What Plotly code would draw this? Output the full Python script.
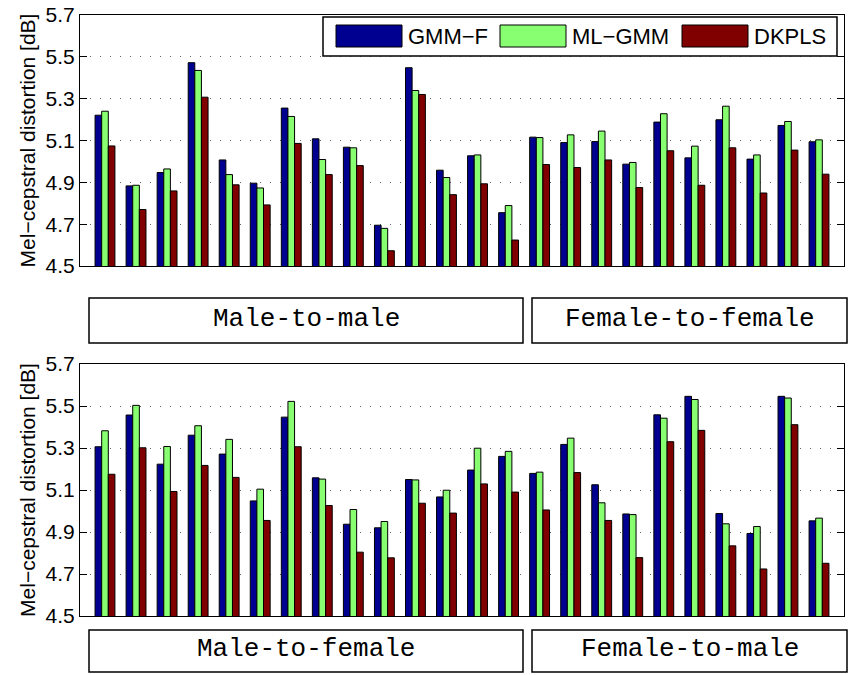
import plotly.graph_objects as go

# ---------------- data ----------------
groups = list(range(1, 25))
series_names = ["GMM\u2212F", "ML\u2212GMM", "DKPLS"]
series_colors = ["#000090", "#88FF70", "#800000"]

top_gmmf = [5.221, 4.883, 4.947, 5.472, 5.007, 4.896, 5.255, 5.108, 5.068, 4.695, 5.448, 4.958,
            5.027, 4.755, 5.116, 5.090, 5.095, 4.987, 5.188, 5.017, 5.199, 5.011, 5.172, 5.094]
top_mlgmm = [5.240, 4.886, 4.964, 5.435, 4.937, 4.873, 5.215, 5.009, 5.065, 4.680, 5.339, 4.923,
             5.031, 4.789, 5.114, 5.127, 5.145, 4.995, 5.228, 5.073, 5.264, 5.031, 5.191, 5.103]
top_dkpls = [5.074, 4.770, 4.859, 5.307, 4.888, 4.792, 5.086, 4.937, 4.980, 4.573, 5.320, 4.841,
             4.893, 4.624, 4.985, 4.971, 5.007, 4.875, 5.051, 4.886, 5.065, 4.849, 5.054, 4.939]

bot_gmmf = [5.306, 5.457, 5.223, 5.361, 5.271, 5.048, 5.447, 5.158, 4.937, 4.920, 5.150, 5.067,
            5.195, 5.260, 5.179, 5.317, 5.125, 4.986, 5.458, 5.546, 4.988, 4.893, 5.546, 4.953]
bot_mlgmm = [5.382, 5.503, 5.307, 5.406, 5.341, 5.104, 5.522, 5.152, 5.007, 4.950, 5.148, 5.099,
             5.299, 5.284, 5.185, 5.347, 5.039, 4.983, 5.442, 5.531, 4.939, 4.926, 5.538, 4.966]
bot_dkpls = [5.175, 5.301, 5.093, 5.217, 5.160, 4.955, 5.306, 5.026, 4.804, 4.777, 5.037, 4.990,
             5.129, 5.090, 5.005, 5.183, 4.955, 4.778, 5.330, 5.384, 4.834, 4.724, 5.411, 4.751]

top_labels = ["Male-to-male", "Female-to-female"]
bot_labels = ["Male-to-female", "Female-to-male"]

y_ticks = [4.5, 4.7, 4.9, 5.1, 5.3, 5.5, 5.7]
y_title = "Mel\u2212cepstral distortion [dB]"

# ---------------- figure ----------------
W, H = 850, 675
def px(x):
    return x / W
def py(y):
    return 1 - y / H

fig = go.Figure()
for vals, name, col in zip([top_gmmf, top_mlgmm, top_dkpls], series_names, series_colors):
    fig.add_trace(go.Bar(x=groups, y=vals, name=name, xaxis="x", yaxis="y",
                         marker=dict(color=col, line=dict(color="black", width=1)),
                         showlegend=False))
for vals, name, col in zip([bot_gmmf, bot_mlgmm, bot_dkpls], series_names, series_colors):
    fig.add_trace(go.Bar(x=groups, y=vals, name=name, xaxis="x2", yaxis="y2",
                         marker=dict(color=col, line=dict(color="black", width=1)),
                         showlegend=False))

sans = "Liberation Sans, Arial, sans-serif"
tickfont = dict(family=sans, size=21, color="black")
xcommon = dict(range=[0.195, 24.805], showticklabels=False, ticks="", showgrid=False,
               showline=True, linecolor="black", linewidth=1, mirror=True, zeroline=False,
               automargin=False)
ycommon = dict(range=[4.5, 5.7], tickvals=y_ticks, ticktext=[f"{v:.1f}" for v in y_ticks],
               ticks="inside", ticklen=7, tickcolor="black", tickfont=tickfont,
               ticklabeloverflow="allow",
               showline=True, linecolor="black", linewidth=1, mirror="ticks",
               showgrid=True, gridcolor="rgba(0,0,0,0.6)", griddash="1px,9px", gridwidth=1,
               zeroline=False, automargin=False,
               title=dict(text=y_title, font=dict(family=sans, size=21, color="black"),
                          standoff=4))

fig.update_layout(
    width=W, height=H,
    margin=dict(l=0, r=0, t=0, b=0, autoexpand=False),
    paper_bgcolor="white", plot_bgcolor="white",
    barmode="group", bargap=0.36, bargroupgap=0.0,
    showlegend=False,
    xaxis=dict(domain=[px(80), px(844)], anchor="y", **xcommon),
    yaxis=dict(domain=[py(266), py(15)], anchor="x", **ycommon),
    xaxis2=dict(domain=[px(80), px(844)], anchor="y2", **xcommon),
    yaxis2=dict(domain=[py(616), py(364)], anchor="x2", **ycommon),
)

shapes = []
annotations = []

# manual legend (top panel)
shapes.append(dict(type="rect", xref="paper", yref="paper",
                   x0=px(323), x1=px(837), y0=py(56), y1=py(17),
                   line=dict(color="black", width=1.5), fillcolor="white", layer="above"))
sw_x = [336, 500, 682]
for x0, name, col in zip(sw_x, series_names, series_colors):
    shapes.append(dict(type="rect", xref="paper", yref="paper",
                       x0=px(x0), x1=px(x0 + 66), y0=py(47), y1=py(25),
                       line=dict(color="black", width=1), fillcolor=col, layer="above"))
    annotations.append(dict(xref="paper", yref="paper", x=px(x0 + 70), y=py(36.5),
                            text=name, showarrow=False, xanchor="left", yanchor="middle",
                            font=dict(family=sans, size=22, color="black")))

# category boxes
mono = dict(family="Liberation Mono, Courier New, monospace", size=26, color="black")
box_x = [(89, 523), (532, 847)]
for (ytop, ybot), labels in [((298, 343), top_labels), ((630, 672), bot_labels)]:
    for (x0, x1), lab in zip(box_x, labels):
        shapes.append(dict(type="rect", xref="paper", yref="paper",
                           x0=px(x0), x1=px(x1), y0=py(ybot), y1=py(ytop),
                           line=dict(color="black", width=1.5), fillcolor="white"))
        annotations.append(dict(xref="paper", yref="paper", x=px((x0 + x1) / 2),
                                y=py((ytop + ybot) / 2 - 2), text=lab, showarrow=False,
                                xanchor="center", yanchor="middle", font=mono))

fig.update_layout(shapes=shapes, annotations=annotations)
fig.write_html("out.html",
               config={"displayModeBar": False},
               post_script="document.body.style.margin='0';document.body.style.overflow='hidden';")
